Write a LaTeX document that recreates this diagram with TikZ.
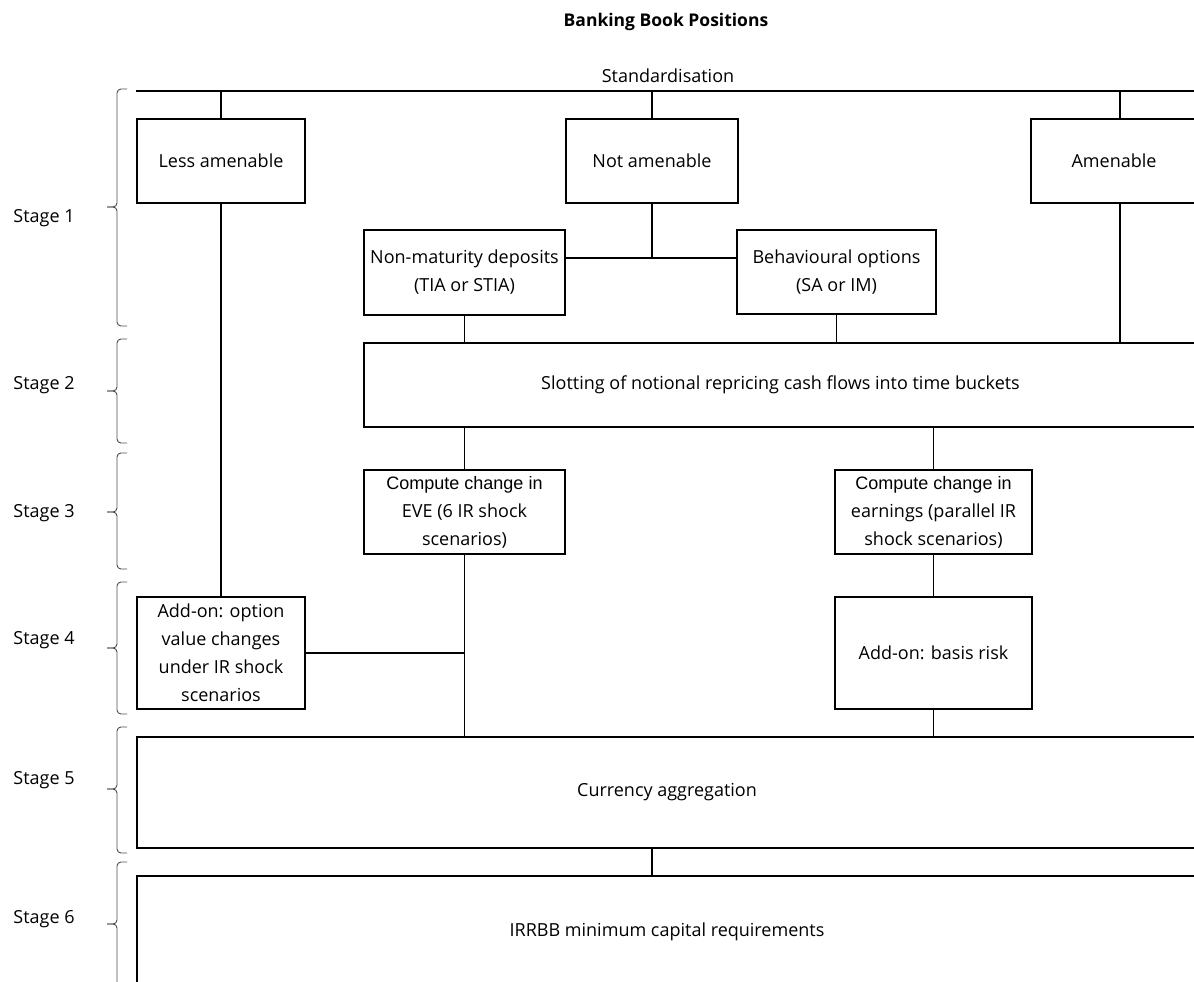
\documentclass[tikz,border=0pt]{standalone}
\usepackage{fontspec}
\setmainfont{Open Sans}
\newfontfamily\arialfont{Liberation Sans}
\usetikzlibrary{positioning}

\tikzset{
	box/.style={draw, line width=1.7pt, align=center, inner sep=0pt},
	link/.style={line width=1.7pt},
	stagebrace/.style={line width=0.9pt, black!70, rounded corners=4pt},
}

\begin{document}
\begin{tikzpicture}[x=1pt, y=-1pt, font=\fontsize{18}{28}\selectfont]
	\useasboundingbox (0,0) rectangle (1194,982);
	\clip (0,0) rectangle (1194,982);

	\node [font=\fontsize{17.5}{20}\selectfont\bfseries] (title) at (666,22) {Banking Book Positions};
	\node (std) at (668,76) {Standardisation};
	\coordinate (topl) at (136,91);
	\coordinate (topr) at (1200,91);
	\draw [link] (topl) -- (topr);

	% stages on the left
	\foreach \n/\ta/\tb/\m/\ly in {1/89/326/207/218, 2/339/443/391/385, 3/453/569/512/513, 4/582/714/648/640, 5/727/853/789/780, 6/862/986/924/919}{
		\draw [stagebrace] (127,\ta) -- (117,\ta) -- (117,\m) -- (107,\m);
		\draw [stagebrace] (107,\m) -- (117,\m) -- (117,\tb) -- (127,\tb);
		\node (stage\n) at (44,\ly) {Stage \n};
	}

	\node [box, minimum width=168pt, minimum height=84pt] (less) at (221,161) {Less amenable};
	\node [box, minimum width=172pt, minimum height=84pt] (notam) at (652,161) {Not amenable};
	\node [box, minimum width=166pt, minimum height=84pt] (amen) at (1114,161) {Amenable};
	\node [box, minimum width=201pt, minimum height=85pt] (nmd) at (464.5,272.5) {Non-maturity deposits\\(TIA or STIA)};
	\node [box, minimum width=199pt, minimum height=84pt] (bo) at (836.5,272) {Behavioural options\\(SA or IM)};
	\node [box, minimum width=833pt, minimum height=84pt] (slot) at (780.5,385) {Slotting of notional repricing cash flows into time buckets};
	\node [box, minimum width=201pt, minimum height=84pt] (eve) at (464.5,512) {{\arialfont Compute change in}\\EVE (6 IR shock\\scenarios)};
	\node [box, minimum width=197pt, minimum height=84pt] (earn) at (933.5,512) {{\arialfont Compute change in}\\earnings (parallel IR\\shock scenarios)};
	\node [box, minimum width=168pt, minimum height=112pt] (opt) at (221,653) {Add-on: option\\value changes\\under IR shock\\scenarios};
	\node [box, minimum width=197pt, minimum height=112pt] (basis) at (933.5,653) {Add-on: basis risk};
	\node [box, minimum width=1060pt, minimum height=111pt] (curr) at (667,792.5) {Currency aggregation};
	\node [box, minimum width=1060pt, minimum height=112pt] (irrbb) at (667,932) {IRRBB minimum capital requirements};

	\coordinate (amx) at (1120,91);
	\coordinate (join) at (652,258);
	\coordinate (cx) at (652,0);

	\draw [link] (less.north |- topl) -- (less.north);
	\draw [link] (notam.north |- topl) -- (notam.north);
	\draw [link] (amx) -- (amx |- amen.north);
	\draw [link] (notam.south) -- (join);
	\draw [link] (nmd.east |- join) -- (bo.west |- join);
	\draw [link] (nmd.south) -- (nmd.south |- slot.north);
	\draw [link] (bo.south) -- (bo.south |- slot.north);
	\draw [link] (amx |- amen.south) -- (amx |- slot.north);
	\draw [link] (slot.south -| eve.north) -- (eve.north);
	\draw [link] (slot.south -| earn.north) -- (earn.north);
	\draw [link] (less.south) -- (opt.north);
	\draw [link] (opt.east) -- (opt.east -| eve.south);
	\draw [link] (eve.south) -- (eve.south |- curr.north);
	\draw [link] (earn.south) -- (basis.north);
	\draw [link] (basis.south) -- (basis.south |- curr.north);
	\draw [link] (cx |- curr.south) -- (cx |- irrbb.north);
\end{tikzpicture}
\end{document}
